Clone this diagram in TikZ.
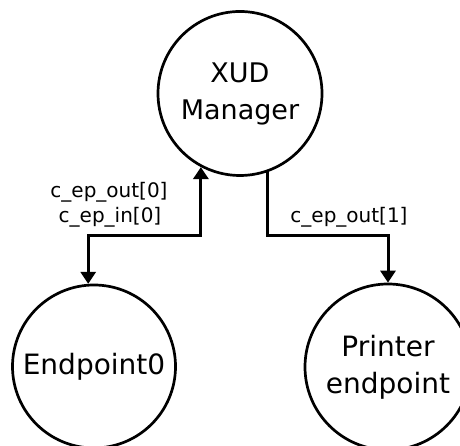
\documentclass[tikz,border=0pt]{standalone}
\usepackage{fontspec}
\setmainfont{DejaVu Sans}
\usetikzlibrary{arrows.meta}
\tikzset{mytri/.tip={Triangle[width=15pt,length=12pt]}}
\begin{document}
\begin{tikzpicture}[x=1pt,y=1pt,
  state/.style={circle, draw, line width=2.7pt, inner sep=0pt, align=center, font=\fontsize{27}{37}\selectfont},
  conn/.style={line width=3pt},
  lab/.style={font=\fontsize{20}{25}\selectfont, anchor=base, inner sep=0pt}]
\useasboundingbox (0,0) rectangle (460,446);
\node[state, minimum size=164pt] (xud) at (240,352.5) {XUD\\Manager};
\node[state, minimum size=163pt, font=\fontsize{28}{37}\selectfont] (e0) at (94,79.5) {Endpoint0};
\node[state, minimum size=166pt, font=\fontsize{28}{37}\selectfont] (pe) at (388,79) {Printer\\endpoint};
\coordinate (jy) at (0,210);
\draw[conn, mytri-mytri] (e0.94) |- (xud.242 |- jy) -- (xud.242);
\draw[conn, -mytri] (xud.289) |- (pe.north |- jy) -- (pe.north);
\node[lab] (l0a) at (109,248) {c\_ep\_out[0]};
\node[lab] (l0b) at (110,223) {c\_ep\_in[0]};
\node[lab] (l1) at (349,223) {c\_ep\_out[1]};
\end{tikzpicture}
\end{document}
